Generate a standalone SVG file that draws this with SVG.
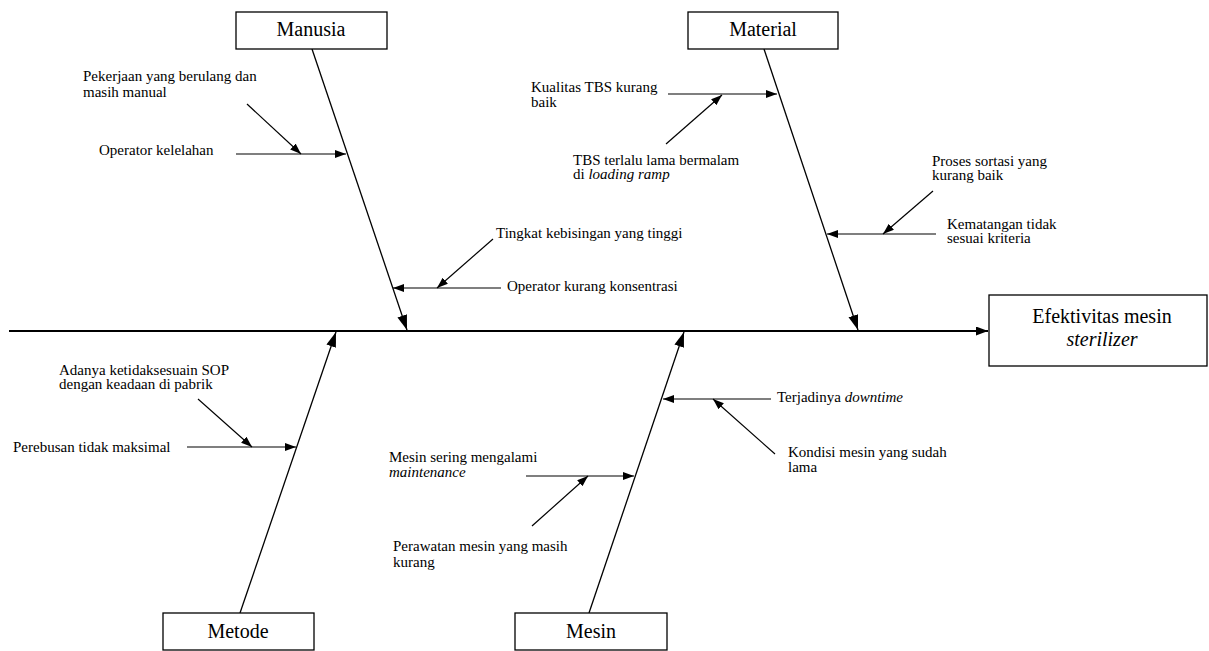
<svg xmlns="http://www.w3.org/2000/svg" width="1209" height="651" viewBox="0 0 1209 651">
<style>
  .t { font-family: "Liberation Serif", "Times New Roman", serif; font-size: 15px; fill: #000; }
  .h { font-family: "Liberation Serif", "Times New Roman", serif; font-size: 20px; fill: #000; text-anchor: middle; }
  .box { fill: #fff; stroke: #000; stroke-width: 1.3; }
  .bone { stroke: #000; stroke-width: 1.3; fill: none; marker-end: url(#big); }
  .sub { stroke: #000; stroke-width: 1.2; fill: none; marker-end: url(#small); }
  .spine { stroke: #000; stroke-width: 1.8; fill: none; marker-end: url(#spineHead); }
</style>
<defs>
  <marker id="big" markerUnits="userSpaceOnUse" markerWidth="16" markerHeight="11" refX="15" refY="5" orient="auto">
    <path d="M0,0 L15,5 L0,10 z" fill="#000"/>
  </marker>
  <marker id="small" markerUnits="userSpaceOnUse" markerWidth="12" markerHeight="9" refX="11" refY="4" orient="auto">
    <path d="M0,0 L11,4 L0,8 z" fill="#000"/>
  </marker>
  <marker id="spineHead" markerUnits="userSpaceOnUse" markerWidth="13" markerHeight="10" refX="12" refY="4.5" orient="auto">
    <path d="M0,0 L12,4.5 L0,9 z" fill="#000"/>
  </marker>
</defs>
<rect width="1209" height="651" fill="#fff"/>

<g id="connectors">
  <line class="spine" x1="9" y1="331" x2="988" y2="331"/>
  <line class="bone" x1="312" y1="49" x2="407" y2="330"/>
  <line class="bone" x1="764" y1="49" x2="858" y2="330"/>
  <line class="bone" x1="240" y1="613" x2="336" y2="332"/>
  <line class="bone" x1="589" y1="613" x2="684" y2="332"/>
  <line class="sub" x1="236" y1="154" x2="346" y2="154"/>
  <line class="sub" x1="247" y1="104" x2="301" y2="154"/>
  <line class="sub" x1="668" y1="94" x2="777" y2="94"/>
  <line class="sub" x1="666" y1="144" x2="722" y2="95"/>
  <line class="sub" x1="493" y1="239" x2="437" y2="288"/>
  <line class="sub" x1="501" y1="288" x2="393" y2="288"/>
  <line class="sub" x1="933" y1="191" x2="883" y2="234"/>
  <line class="sub" x1="936" y1="234" x2="827" y2="234"/>
  <line class="sub" x1="187" y1="447" x2="296" y2="447"/>
  <line class="sub" x1="198" y1="399" x2="252" y2="447"/>
  <line class="sub" x1="526" y1="476" x2="634" y2="476"/>
  <line class="sub" x1="532" y1="526" x2="588" y2="476"/>
  <line class="sub" x1="771" y1="399" x2="663" y2="399"/>
  <line class="sub" x1="775" y1="454" x2="713" y2="399"/>
</g>

<g id="effect">
  <rect class="box" x="989" y="295" width="218" height="71"/>
  <text class="h" x="1102" y="323" font-size="19.5">Efektivitas mesin</text>
  <text class="h" x="1102" y="346" font-size="19.5" font-style="italic">sterilizer</text>
</g>

<g id="manusia">
  <rect class="box" x="236" y="12" width="151" height="37"/>
  <text class="h" x="311" y="36">Manusia</text>
</g>
<g id="material">
  <rect class="box" x="688" y="12" width="150" height="37"/>
  <text class="h" x="763" y="36">Material</text>
</g>
<g id="metode">
  <rect class="box" x="163" y="613" width="151" height="37"/>
  <text class="h" x="238" y="638">Metode</text>
</g>
<g id="mesin">
  <rect class="box" x="515" y="613" width="152" height="37"/>
  <text class="h" x="591" y="638">Mesin</text>
</g>

<g id="cause-pekerjaan">
  <text class="t" x="83" y="81">Pekerjaan yang berulang dan</text>
  <text class="t" x="83" y="97">masih manual</text>
</g>
<g id="cause-operator-kelelahan">
  <text class="t" x="99" y="155">Operator kelelahan</text>
</g>
<g id="cause-kualitas">
  <text class="t" x="531" y="92">Kualitas TBS kurang</text>
  <text class="t" x="531" y="107">baik</text>
</g>
<g id="cause-tbs">
  <text class="t" x="573" y="165">TBS terlalu lama bermalam</text>
  <text class="t" x="573" y="179">di <tspan font-style="italic">loading ramp</tspan></text>
</g>
<g id="cause-proses">
  <text class="t" x="932" y="166">Proses sortasi yang</text>
  <text class="t" x="932" y="180">kurang baik</text>
</g>
<g id="cause-kematangan">
  <text class="t" x="947" y="229">Kematangan tidak</text>
  <text class="t" x="947" y="243">sesuai kriteria</text>
</g>
<g id="cause-tingkat">
  <text class="t" x="496" y="238">Tingkat kebisingan yang tinggi</text>
</g>
<g id="cause-operator-konsentrasi">
  <text class="t" x="507" y="291">Operator kurang konsentrasi</text>
</g>
<g id="cause-adanya">
  <text class="t" x="59" y="375">Adanya ketidaksesuain SOP</text>
  <text class="t" x="59" y="389">dengan keadaan di pabrik</text>
</g>
<g id="cause-perebusan">
  <text class="t" x="13" y="452">Perebusan tidak maksimal</text>
</g>
<g id="cause-mesin-sering">
  <text class="t" x="389" y="462">Mesin sering mengalami</text>
  <text class="t" x="389" y="477" font-style="italic">maintenance</text>
</g>
<g id="cause-perawatan">
  <text class="t" x="393" y="551">Perawatan mesin yang masih</text>
  <text class="t" x="393" y="567">kurang</text>
</g>
<g id="cause-downtime">
  <text class="t" x="777" y="402">Terjadinya <tspan font-style="italic">downtime</tspan></text>
</g>
<g id="cause-kondisi">
  <text class="t" x="788" y="457">Kondisi mesin yang sudah</text>
  <text class="t" x="788" y="472">lama</text>
</g>
</svg>
